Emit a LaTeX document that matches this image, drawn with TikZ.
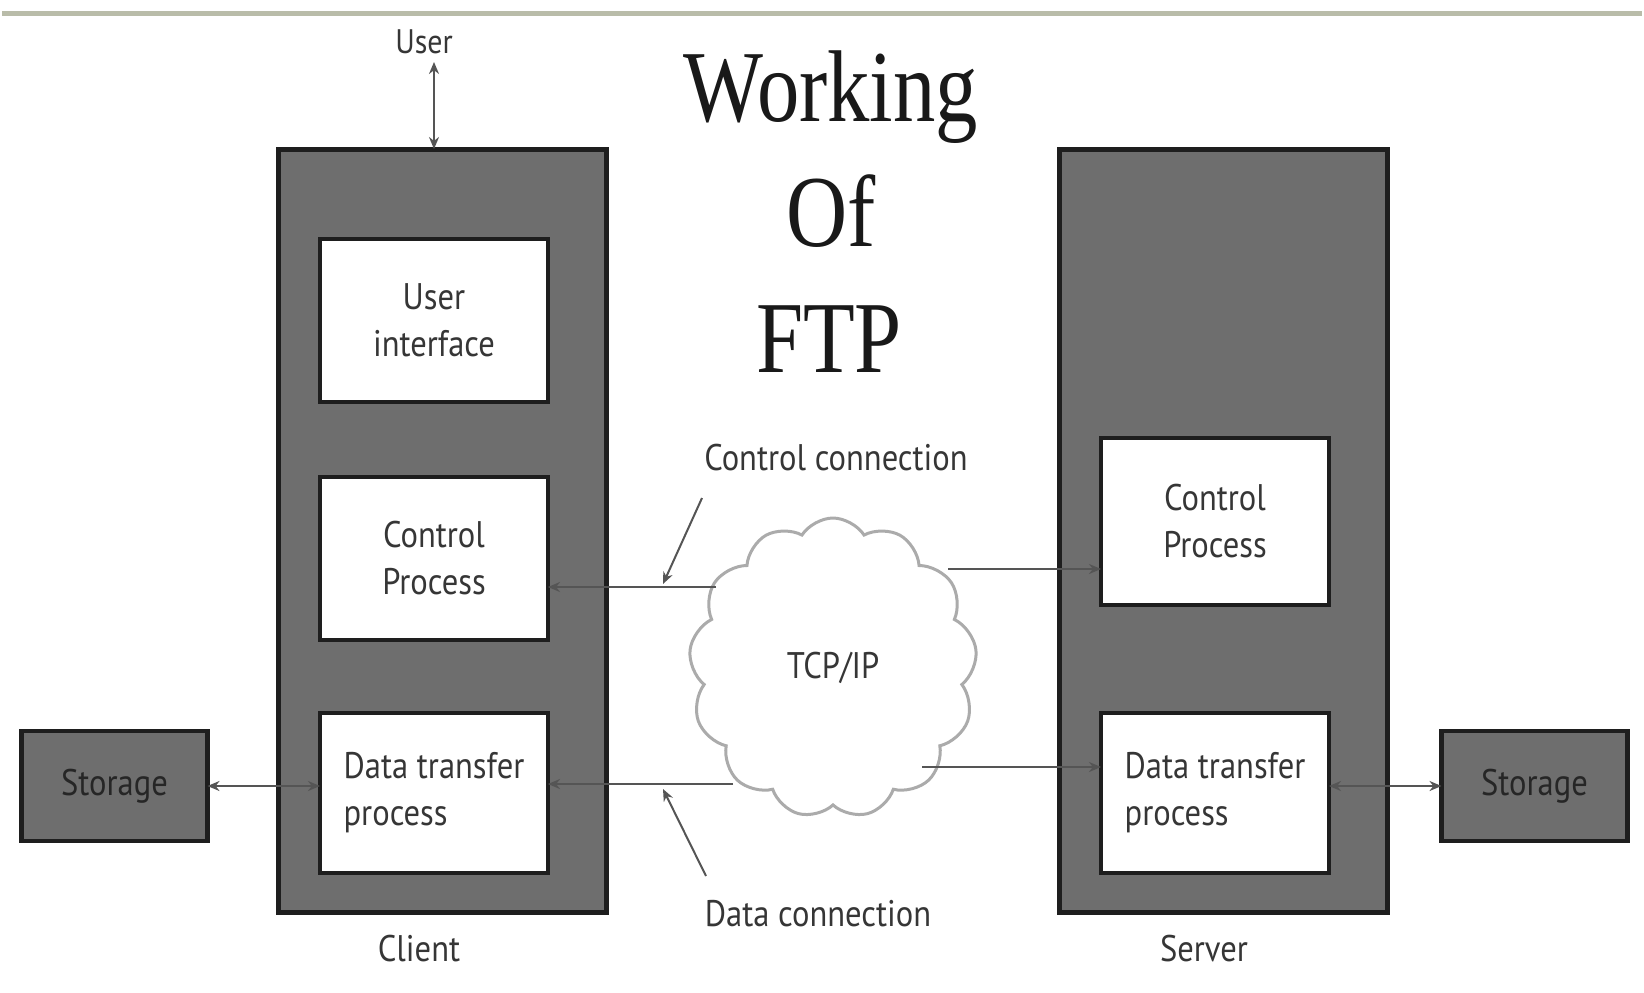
\documentclass[tikz,border=0pt]{standalone}
\usepackage{fontspec}
\setmainfont{Liberation Serif}
\newfontfamily\titlefont[FakeStretch=0.83]{Liberation Serif}
\newfontfamily\lblfont[FakeStretch=0.88]{PT Sans}
\usetikzlibrary{shapes.symbols,arrows.meta}
\definecolor{boxgray}{HTML}{6E6E6E}
\definecolor{edgegray}{HTML}{1E1E1E}
\definecolor{txtgray}{HTML}{363636}
\definecolor{linegray}{HTML}{555555}
\definecolor{cloudgray}{HTML}{ABABAB}
\definecolor{topline}{HTML}{B9BCA9}
\begin{document}
\begin{tikzpicture}[x=0.5pt,y=-0.5pt,
  >={Stealth[length=6pt,width=5pt]},
  outerbox/.style={draw=edgegray, line width=2.5pt, fill=boxgray, minimum width=164pt, minimum height=381.5pt, inner sep=0pt, outer sep=0pt},
  innerbox/.style={draw=edgegray, line width=2pt, fill=white, minimum width=114pt, minimum height=81.5pt, inner sep=0pt, outer sep=0pt, font=\lblfont\fontsize{18.5}{23.5}\selectfont, text=txtgray},
  storebox/.style={draw=edgegray, line width=2.2pt, fill=boxgray, minimum width=93pt, minimum height=55pt, inner sep=0pt, outer sep=0pt, font=\lblfont\fontsize{18.5}{23.5}\selectfont, text=black!85},
  lbl/.style={font=\lblfont\fontsize{18.5}{23.5}\selectfont, text=txtgray, inner sep=0pt},
  ttl/.style={font=\titlefont\fontsize{51}{60}\selectfont, text=black!90, inner sep=0pt, anchor=base},
  conn/.style={draw=linegray, line width=1pt}
]
\useasboundingbox (0,0) rectangle (1644,992);
\fill[white] (0,0) rectangle (1644,992);
\draw[topline, line width=2.5pt] (2,13) -- (1642,13);

% title
\node[ttl] (t1) at (831,121) {Working};
\node[ttl] (t2) at (831,246) {Of};
\node[ttl] (t3) at (829,372) {FTP};

% client and server
\node[outerbox] (client) at (442,530.5) {};
\node[outerbox] (server) at (1223,530.5) {};

\node[innerbox, align=center] (cUI) at (434,320.5) {User\\interface};
\node[innerbox, align=center] (cCP) at (434,558.5) {Control\\Process};
\node[innerbox, align=left, minimum height=80pt] (cDT) at (434,793) {Data transfer\\process};

\node[innerbox, align=center, minimum height=83.5pt] (sCP) at (1215,521.5) {Control\\Process};
\node[innerbox, align=left, minimum height=80pt] (sDT) at (1215,793) {Data transfer\\process};

\node[storebox] (stL) at (114.5,786) {Storage};
\node[storebox] (stR) at (1534.5,786) {Storage};

% cloud
\node[cloud, cloud puffs=13, cloud puff arc=115, aspect=0.95, draw=cloudgray, line width=1.5pt, fill=white, minimum width=144pt, minimum height=150pt, inner sep=0pt, lbl] (cloud) at (833,668) {TCP/IP};

% labels
\node[lbl, font=\lblfont\fontsize{17}{20}\selectfont] (user) at (424,42) {User};
\node[lbl] (client lbl) at (419,949) {Client};
\node[lbl] (server lbl) at (1204,949) {Server};
\node[lbl] (ccl) at (836,458) {Control connection};
\node[lbl] (dcl) at (818,914) {Data connection};

% coordinates
\coordinate (ua) at (434,62);
\coordinate (cl1) at (716,587);
\coordinate (cr1) at (948,569);
\coordinate (dl1) at (733,784);
\coordinate (dr1) at (922,767);
\coordinate (cp0) at (702,498);
\coordinate (cp1) at (663,584);
\coordinate (dp0) at (706,876);
\coordinate (dp1) at (663,789);

% connectors
\draw[conn, <->] (ua) -- (ua |- client.north);
\draw[conn, ->] (cl1) -- (cl1 -| cCP.east);
\draw[conn, ->] (cr1) -- (cr1 -| sCP.west);
\draw[conn, ->] (dl1) -- (dl1 -| cDT.east);
\draw[conn, ->] (dr1) -- (dr1 -| sDT.west);
\draw[conn, <->] (stL.east) -- (stL.east -| cDT.west);
\draw[conn, <->] (sDT.east |- stR.west) -- (stR.west);
\draw[conn, ->] (cp0) -- (cp1);
\draw[conn, ->] (dp0) -- (dp1);
\end{tikzpicture}
\end{document}
